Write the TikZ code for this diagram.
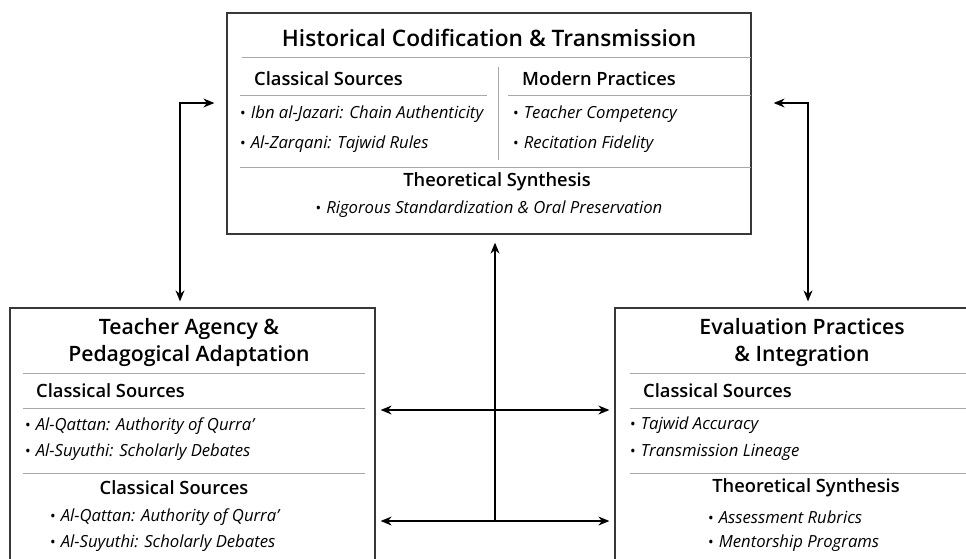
\documentclass[tikz,border=0pt]{standalone}
\usepackage{fontspec}
\setmainfont{Open Sans}[BoldFont={Open Sans Semibold}]
\usetikzlibrary{arrows.meta, positioning, calc}
\definecolor{boxline}{HTML}{383838}
\definecolor{ruleline}{HTML}{A8A8A8}
\newcommand{\itm}[1]{{\upshape\fontsize{15}{15}\selectfont\textbullet}\hspace{0.3em}#1}

\begin{document}
\begin{tikzpicture}[x=1pt, y=-1pt,
    panel/.style={draw=boxline, line width=1.3pt, fill=white, inner sep=0pt},
    rule/.style={draw=ruleline, line width=0.9pt},
    head/.style={font=\fontsize{21.2}{27}\selectfont\bfseries, align=center, inner sep=0pt},
    subhead/.style={font=\fontsize{18.3}{19}\selectfont\bfseries, inner sep=0pt},
    item/.style={font=\fontsize{16.7}{17}\selectfont\itshape, inner sep=0pt},
    link/.style={draw=black, line width=1.1pt, {Stealth[length=11pt,width=9pt]}-{Stealth[length=11pt,width=9pt]}},
    single/.style={draw=black, line width=1.1pt, -{Stealth[length=11pt,width=9pt]}}]
    \useasboundingbox (0,0) rectangle (966,558);
    \clip (0,0) rectangle (966,558);
    \fill[white] (0,0) rectangle (966,558);

    % the three panels
    \node[panel, minimum width=524pt, minimum height=221pt] (hist)   at (489,123.5) {};
    \node[panel, minimum width=365pt, minimum height=270pt] (agency) at (192.5,443) {};
    \node[panel, minimum width=370pt, minimum height=270pt] (eval)   at (800,443) {};

    % top panel
    \node[head, font=\fontsize{22.7}{27}\selectfont\bfseries] (histT) at (489,38) {Historical Codification \& Transmission};
    \draw[rule] (242,57) -- (751,57);
    \draw[rule] (498,67) -- (498,160);
    \node[subhead, anchor=west] (histCs) at (254,79) {Classical Sources};
    \node[subhead, anchor=west] (histMp) at (522,79) {Modern Practices};
    \draw[rule] (240,95) -- (487,95);
    \draw[rule] (508,95) -- (751,95);
    \node[item, anchor=west] (histA) at (240,114) {\itm{Ibn al-Jazari: Chain Authenticity}};
    \node[item, anchor=west] (histB) at (240,144) {\itm{Al-Zarqani: Tajwid Rules}};
    \node[item, anchor=west] (histC) at (513,114) {\itm{Teacher Competency}};
    \node[item, anchor=west] (histD) at (513,144) {\itm{Recitation Fidelity}};
    \draw[rule] (240,167) -- (751,167);
    \node[subhead] (histTs) at (497,182) {Theoretical Synthesis};
    \node[item] (histE) at (489,209) {\itm{Rigorous Standardization \& Oral Preservation}};

    % left panel
    \node[head] (agT) at (189,342) {Teacher Agency \&\\Pedagogical Adaptation};
    \draw[rule] (23,373) -- (365,373);
    \node[subhead, anchor=west] (agCs) at (36,391) {Classical Sources};
    \draw[rule] (23,408) -- (365,408);
    \node[item, anchor=west] (agA) at (25,426) {\itm{Al-Qattan: Authority of Qurra'}};
    \node[item, anchor=west] (agB) at (25,452) {\itm{Al-Suyuthi: Scholarly Debates}};
    \draw[rule] (23,473) -- (365,473);
    \node[subhead] (agCs2) at (174,488) {Classical Sources};
    \node[item, anchor=west] (agC) at (50,517) {\itm{Al-Qattan: Authority of Qurra'}};
    \node[item, anchor=west] (agD) at (50,543) {\itm{Al-Suyuthi: Scholarly Debates}};

    % right panel
    \node[head] (evT) at (802,342) {Evaluation Practices\\\& Integration};
    \draw[rule] (630,373) -- (966,373);
    \node[subhead, anchor=west] (evCs) at (643,391) {Classical Sources};
    \draw[rule] (630,408) -- (966,408);
    \node[item, anchor=west] (evA) at (630,425) {\itm{Tajwid Accuracy}};
    \node[item, anchor=west] (evB) at (630,452) {\itm{Transmission Lineage}};
    \draw[rule] (630,473) -- (966,473);
    \node[subhead] (evTs) at (806,488) {Theoretical Synthesis};
    \node[item, anchor=west] (evC) at (708,517) {\itm{Assessment Rubrics}};
    \node[item, anchor=west] (evD) at (708,543) {\itm{Mentorship Programs}};

    % connectors
    \coordinate (lk) at (180,103);
    \coordinate (rk) at (808,103);
    \coordinate (mid1) at (495,410);
    \coordinate (mid2) at (495,521);
    \draw[link, shorten <=12pt, shorten >=6pt] (hist.west |- lk) -| (agency.north -| lk);
    \draw[link, shorten <=22pt, shorten >=6pt] (hist.east |- rk) -| (eval.north -| rk);
    \draw[link, shorten <=5pt, shorten >=5pt] (agency.east |- mid1) -- (eval.west |- mid1);
    \draw[link, shorten <=5pt, shorten >=5pt] (agency.east |- mid2) -- (eval.west |- mid2);
    \draw[single, shorten >=8pt] (mid2) -- (hist.south -| mid2);
\end{tikzpicture}
\end{document}
